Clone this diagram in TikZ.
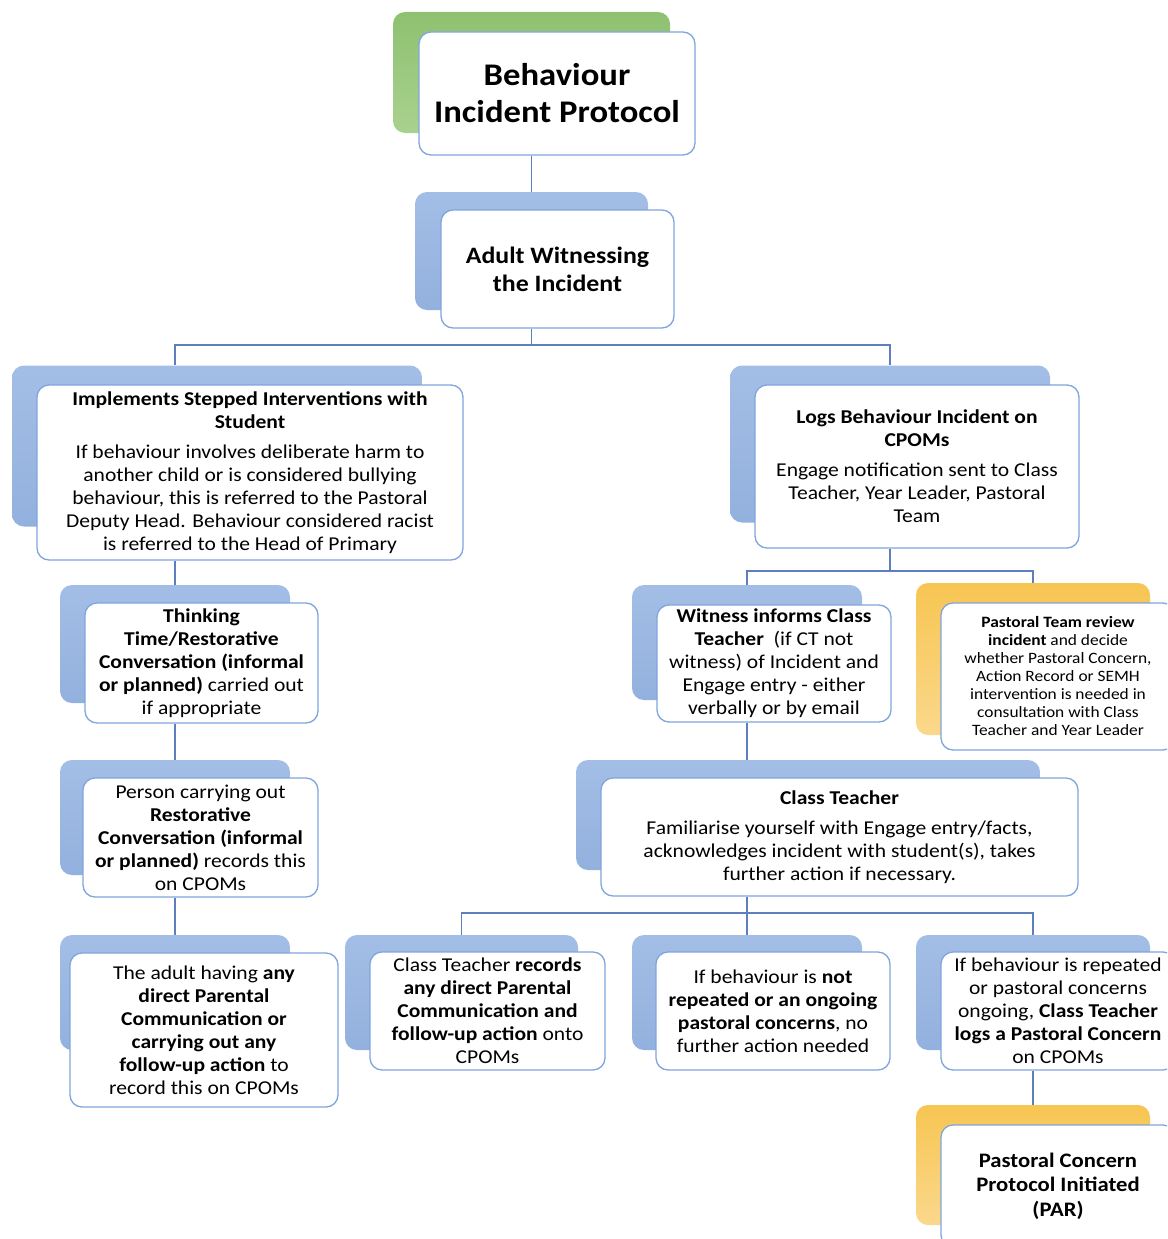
\documentclass[tikz,border=0pt]{standalone}
\usepackage{fontspec}
\setmainfont{Carlito}[FakeStretch=1.1]
\usetikzlibrary{positioning,backgrounds}
\definecolor{paneltop}{HTML}{A3BEE6}
\definecolor{panelbot}{HTML}{93B1DE}
\definecolor{greentop}{HTML}{8EC170}
\definecolor{greenbot}{HTML}{A9D18F}
\definecolor{yellowtop}{HTML}{F7C552}
\definecolor{yellowbot}{HTML}{FAD88C}
\definecolor{cardline}{HTML}{7FA5DD}
\definecolor{connline}{HTML}{5D7FBD}
\tikzset{
  panel/.style={rounded corners=12pt, inner sep=0pt, draw=none},
  bluepanel/.style={panel, top color=paneltop, bottom color=panelbot},
  greenpanel/.style={panel, top color=greentop, bottom color=greenbot},
  yellowpanel/.style={panel, top color=yellowtop, bottom color=yellowbot},
  card/.style={
    rounded corners=12pt,
    draw=cardline,
    line width=1.3pt,
    fill=white,
    align=center,
    inner sep=0pt,
    font=\fontsize{19.6}{23}\selectfont,
  },
  titlecard/.style={card, font=\fontsize{31.5}{37}\selectfont\bfseries},
  headcard/.style={card, font=\fontsize{23.5}{28}\selectfont\bfseries},
  smallcard/.style={card, font=\fontsize{15.8}{18}\selectfont},
  parcard/.style={card, font=\fontsize{20.6}{24.5}\selectfont\bfseries},
  conn/.style={draw=connline, line width=1.6pt},
}

\begin{document}
\begin{tikzpicture}[x=1pt, y=-1pt]
  \useasboundingbox (0,0) rectangle (1167,1239);
  \clip (0,0) rectangle (1167,1239);

  % back panels
  \node[greenpanel, minimum width=277, minimum height=121] (titlebk) at (531.5,72.5) {};
  \node[bluepanel, minimum width=233, minimum height=118] (adultbk) at (531.5,251) {};
  \node[bluepanel, minimum width=410, minimum height=161] (implbk) at (217,446) {};
  \node[bluepanel, minimum width=320, minimum height=157] (logsbk) at (890,444) {};
  \node[bluepanel, minimum width=230, minimum height=118] (thinkbk) at (175,644) {};
  \node[bluepanel, minimum width=230, minimum height=115] (personbk) at (175,817.5) {};
  \node[bluepanel, minimum width=230, minimum height=115] (adultactbk) at (175,992.5) {};
  \node[bluepanel, minimum width=230, minimum height=115] (witnessbk) at (747,642.5) {};
  \node[yellowpanel, minimum width=234, minimum height=152] (reviewbk) at (1033,659) {};
  \node[bluepanel, minimum width=464, minimum height=110] (ctbk) at (808,815) {};
  \node[bluepanel, minimum width=233, minimum height=115] (ctrecbk) at (461.5,992.5) {};
  \node[bluepanel, minimum width=230, minimum height=115] (notrepbk) at (747,992.5) {};
  \node[bluepanel, minimum width=234, minimum height=115] (repbk) at (1033,992.5) {};
  \node[yellowpanel, minimum width=234, minimum height=120] (parbk) at (1033,1165) {};

  % front cards
  \node[titlecard, minimum width=276, minimum height=123] (title) at (557,93.5) {Behaviour\\Incident Protocol};
  \node[headcard, minimum width=233, minimum height=118] (adult) at (557.5,269) {Adult Witnessing\\the Incident};
  \node[card, minimum width=426, minimum height=175] (impl) at (250,472.5)
    {\textbf{Implements Stepped Interventions with}\\\textbf{Student}\\[7pt]
     If behaviour involves deliberate harm to\\another child or is considered bullying\\
     behaviour, this is referred to the Pastoral\\Deputy Head. Behaviour considered racist\\
     is referred to the Head of Primary};
  \node[card, minimum width=324, minimum height=163] (logs) at (917,466.5)
    {\textbf{Logs Behaviour Incident on}\\\textbf{CPOMs}\\[7pt]
     Engage notification sent to Class\\Teacher, Year Leader, Pastoral\\Team};
  \node[card, minimum width=233, minimum height=120] (think) at (201.5,663)
    {\textbf{Thinking}\\\textbf{Time/Restorative}\\\textbf{Conversation (informal}\\
     \textbf{or planned)} carried out\\if appropriate};
  \node[card, minimum width=235, minimum height=119] (person) at (200.5,837.5)
    {Person carrying out\\\textbf{Restorative}\\\textbf{Conversation (informal}\\
     \textbf{or planned)} records this\\on CPOMs};
  \node[card, minimum width=268, minimum height=154] (adultact) at (204,1030)
    {The adult having \textbf{any}\\\textbf{direct Parental}\\\textbf{Communication or}\\
     \textbf{carrying out any}\\\textbf{follow-up action} to\\record this on CPOMs};
  \node[card, minimum width=234, minimum height=117] (witness) at (774,663.5)
    {\textbf{Witness informs Class}\\\textbf{Teacher}\ \ (if CT not\\witness) of Incident and\\
     Engage entry - either\\verbally or by email};
  \node[smallcard, minimum width=234, minimum height=147] (review) at (1058,676.5)
    {\textbf{Pastoral Team review}\\\textbf{incident} and decide\\whether Pastoral Concern,\\
     Action Record or SEMH\\intervention is needed in\\consultation with Class\\
     Teacher and Year Leader};
  \node[card, minimum width=477, minimum height=118] (ct) at (839.5,837)
    {\textbf{Class Teacher}\\[7pt]Familiarise yourself with Engage entry/facts,\\
     acknowledges incident with student(s), takes\\further action if necessary.};
  \node[card, minimum width=235, minimum height=118] (ctrec) at (487.5,1011)
    {Class Teacher \textbf{records}\\\textbf{any direct Parental}\\\textbf{Communication and}\\
     \textbf{follow-up action} onto\\CPOMs};
  \node[card, minimum width=234, minimum height=118] (notrep) at (773,1011)
    {If behaviour is \textbf{not}\\\textbf{repeated or an ongoing}\\
     \textbf{pastoral concerns}, no\\further action needed};
  \node[card, minimum width=234, minimum height=118] (rep) at (1058,1011)
    {If behaviour is repeated\\or pastoral concerns\\ongoing, \textbf{Class Teacher}\\
     \textbf{logs a Pastoral Concern}\\on CPOMs};
  \node[parcard, minimum width=234, minimum height=122] (par) at (1058,1186)
    {Pastoral Concern\\Protocol Initiated\\(PAR)};

  % connectors
  \coordinate (split1) at (531.5,345);
  \coordinate (split2) at (890,571);
  \coordinate (split3) at (747,913);
  \coordinate (implin) at (implbk.north -| thinkbk.north);

  \draw[conn] (titlebk.south |- title.south) -- (adultbk.north);
  \draw[conn] (adultbk.south |- adult.south) -- (split1);
  \draw[conn] (implin) |- (split1) -| (logsbk.north);
  \draw[conn] (thinkbk.north |- impl.south) -- (thinkbk.north);
  \draw[conn] (personbk.north |- think.south) -- (personbk.north);
  \draw[conn] (adultactbk.north |- person.south) -- (adultactbk.north);
  \draw[conn] (logsbk.south |- logs.south) -- (split2);
  \draw[conn] (witnessbk.north) |- (split2) -| (reviewbk.north);
  \draw[conn] (witnessbk.south |- witness.south) -- (ctbk.north -| witnessbk.south);
  \draw[conn] (notrepbk.north |- ct.south) -- (notrepbk.north);
  \draw[conn] (ctrecbk.north) |- (split3) -| (repbk.north);
  \draw[conn] (repbk.south |- rep.south) -- (parbk.north);
\end{tikzpicture}
\end{document}
